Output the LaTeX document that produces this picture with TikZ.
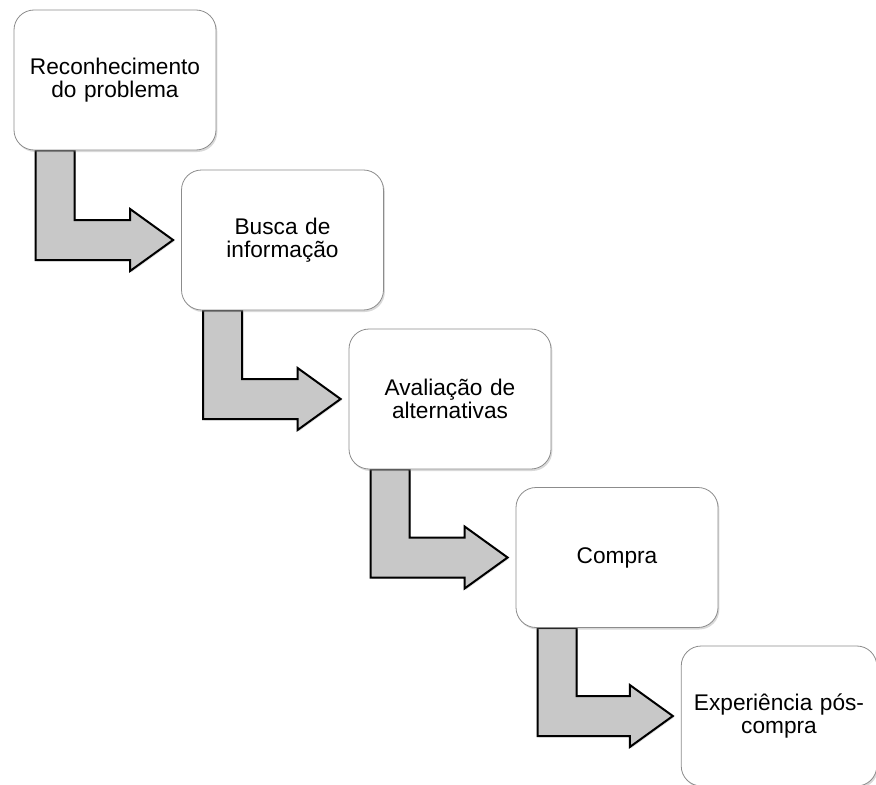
\documentclass[tikz,border=0pt]{standalone}
\usepackage{fontspec}
\setmainfont{Liberation Sans}
\usetikzlibrary{positioning, shapes, arrows.meta, calc, shadows, backgrounds}

\definecolor{boxline}{HTML}{8C8C8C}
\definecolor{arrowfill}{HTML}{C8C8C8}

\begin{document}
\begin{tikzpicture}[
  x=0.75pt, y=-0.75pt,
  stage/.style={rectangle, draw=boxline, line width=0.6pt, rounded corners=15pt, fill=white,
    minimum width=#1, minimum height=105pt, align=center, text width=140pt,
    font=\fontsize{17}{17.5}\selectfont,
    drop shadow={shadow xshift=1pt, shadow yshift=-1.5pt, opacity=0.3}},
  stage/.default=151.5pt,
  bent/.style={draw=black, line width=1.5pt, fill=arrowfill, line join=miter,
    drop shadow={shadow xshift=1pt, shadow yshift=-1pt, opacity=0.25}}
]
\useasboundingbox (0,0) rectangle (876,785);

% ---------- Stages ----------
\node[stage] (A) at (115,80) {Reconhecimento\\do problema};
\node[stage] (B) at (282.5,240) {Busca de\\informação};
\node[stage] (C) at (450,399) {Avaliação de\\alternativas};
\node[stage] (D) at (617,557.5) {Compra};
\node[stage=142.5pt] (E) at (779,716) {Experiência pós-\\compra};

% ---------- Arrows ----------
\begin{pgfonlayer}{background}
\draw[bent] ($(A.south west)+(22,0)$) |- ($(B.west)+(-51,20)$) -- ++(0,11) -- ($(B.west)+(-8,0)$)
  -- ($(B.west)+(-51,-31)$) -- ++(0,11) -| ($(A.south west)+(61,0)$) -- cycle;
\draw[bent] ($(B.south west)+(22,0)$) |- ($(C.west)+(-51,20)$) -- ++(0,11) -- ($(C.west)+(-8,0)$)
  -- ($(C.west)+(-51,-31)$) -- ++(0,11) -| ($(B.south west)+(61,0)$) -- cycle;
\draw[bent] ($(C.south west)+(22,0)$) |- ($(D.west)+(-51,20)$) -- ++(0,11) -- ($(D.west)+(-8,0)$)
  -- ($(D.west)+(-51,-31)$) -- ++(0,11) -| ($(C.south west)+(61,0)$) -- cycle;
\draw[bent] ($(D.south west)+(22,0)$) |- ($(E.west)+(-51,20)$) -- ++(0,11) -- ($(E.west)+(-8,0)$)
  -- ($(E.west)+(-51,-31)$) -- ++(0,11) -| ($(D.south west)+(61,0)$) -- cycle;
\end{pgfonlayer}

\end{tikzpicture}
\end{document}
